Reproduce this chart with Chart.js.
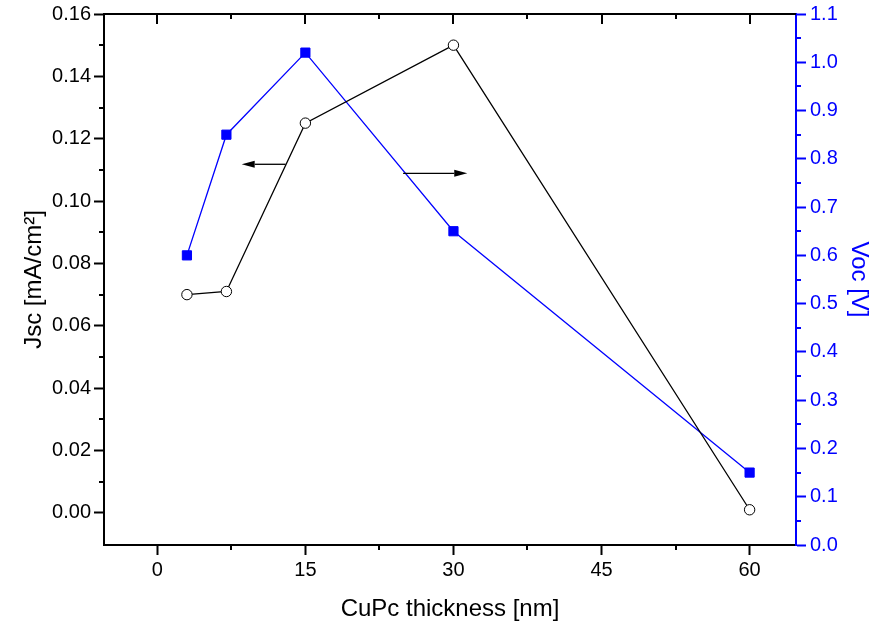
<!DOCTYPE html>
<html>
<head>
<meta charset="utf-8">
<script src="https://cdn.jsdelivr.net/npm/chart.js@4"></script>
<style>
  html, body { margin: 0; padding: 0; background: #fff; }
  #wrap { width: 878px; height: 625px; }
</style>
</head>
<body>
<div id="wrap"><canvas id="grafica" width="878" height="625"></canvas></div>
<script>
// CuPc layer thickness (nm)
const thickness = [3, 7, 15, 30, 60];
// short-circuit current density (mA/cm2)
const jsc = [0.070, 0.071, 0.125, 0.150, 0.001];
// open-circuit voltage (V)
const voc = [0.60, 0.85, 1.02, 0.65, 0.15];

// arrows telling which axis each curve belongs to: [x from, x to, y, axis]
const arrowFrom = [13.0, 24.9];
const arrowTo = [8.55, 31.4];
const arrowLevel = [0.1118, 0.770];
const arrowAxis = ['yJ', 'yV'];

const FONT = 'Liberation Sans, Arial, Helvetica, sans-serif';
const BLUE = '#0000ff';

// keep the plot frame fixed, whatever the tick labels would like to reserve
function fixedBox(size, horizontal) {
  return s => {
    if (horizontal) {
      s.height = size;
      s.paddingLeft = 0;
      s.paddingRight = 0;
    } else {
      s.width = size;
      s.paddingTop = 0;
      s.paddingBottom = 0;
    }
  };
}

// top frame line, minor ticks, top-axis ticks and the two arrows
const extrasPlugin = {
  id: 'extras',
  afterDraw(chart) {
    const ctx = chart.ctx;
    const area = chart.chartArea;
    const sx = chart.scales.x;
    const sJ = chart.scales.yJ;
    const sV = chart.scales.yV;

    ctx.save();
    ctx.lineWidth = 2;
    ctx.lineCap = 'butt';

    // top frame
    ctx.strokeStyle = '#000';
    ctx.beginPath();
    ctx.moveTo(area.left - 1, area.top);
    ctx.lineTo(area.right, area.top);
    ctx.stroke();

    function minors(scale) {
      const t = scale.ticks.map(k => k.value);
      const out = [];
      for (let i = 0; i < t.length - 1; i++) out.push((t[i] + t[i + 1]) / 2);
      return out;
    }

    // x: major + minor inward ticks on top, minor outward ticks at bottom
    ctx.beginPath();
    sx.ticks.forEach(k => {
      const px = Math.round(sx.getPixelForValue(k.value));
      ctx.moveTo(px, area.top);
      ctx.lineTo(px, area.top + 10);
    });
    minors(sx).forEach(v => {
      const px = Math.round(sx.getPixelForValue(v));
      ctx.moveTo(px, area.top);
      ctx.lineTo(px, area.top + 5);
      ctx.moveTo(px, area.bottom);
      ctx.lineTo(px, area.bottom + 5);
    });
    // left minor ticks
    minors(sJ).forEach(v => {
      const py = Math.round(sJ.getPixelForValue(v));
      ctx.moveTo(area.left, py);
      ctx.lineTo(area.left - 5, py);
    });
    ctx.stroke();

    // right minor ticks
    ctx.strokeStyle = BLUE;
    ctx.beginPath();
    minors(sV).forEach(v => {
      const py = Math.round(sV.getPixelForValue(v));
      ctx.moveTo(area.right, py);
      ctx.lineTo(area.right + 5, py);
    });
    ctx.stroke();

    // arrows
    ctx.strokeStyle = '#000';
    ctx.fillStyle = '#000';
    ctx.lineWidth = 1.3;
    for (let i = 0; i < arrowFrom.length; i++) {
      const ys = chart.scales[arrowAxis[i]];
      const x0 = sx.getPixelForValue(arrowFrom[i]);
      const x1 = sx.getPixelForValue(arrowTo[i]);
      const y = ys.getPixelForValue(arrowLevel[i]);
      const dir = x1 > x0 ? 1 : -1;
      const head = 13;
      ctx.beginPath();
      ctx.moveTo(x0, y);
      ctx.lineTo(x1 - dir * head, y);
      ctx.stroke();
      ctx.beginPath();
      ctx.moveTo(x1, y);
      ctx.lineTo(x1 - dir * head, y - 3.5);
      ctx.lineTo(x1 - dir * head, y + 3.5);
      ctx.closePath();
      ctx.fill();
    }
    ctx.restore();
  }
};

new Chart(document.getElementById('grafica'), {
  type: 'line',
  data: {
    datasets: [
      {
        label: 'Jsc',
        data: thickness.map((x, i) => ({ x: x, y: jsc[i] })),
        yAxisID: 'yJ',
        borderColor: '#000',
        borderWidth: 1.3,
        pointStyle: 'circle',
        pointRadius: 5.2,
        pointBorderWidth: 1,
        pointBorderColor: '#000',
        pointBackgroundColor: '#fff',
        tension: 0,
        order: 1
      },
      {
        label: 'Voc',
        data: thickness.map((x, i) => ({ x: x, y: voc[i] })),
        yAxisID: 'yV',
        borderColor: BLUE,
        borderWidth: 1.3,
        pointStyle: 'rect',
        pointRadius: 6.5,
        pointBorderWidth: 1,
        pointBorderColor: BLUE,
        pointBackgroundColor: BLUE,
        tension: 0,
        order: 2
      }
    ]
  },
  options: {
    responsive: false,
    animation: false,
    layout: { padding: { top: 14, left: 0, right: 0, bottom: 0 }, autoPadding: false },
    plugins: { legend: { display: false }, tooltip: { enabled: false } },
    scales: {
      x: {
        type: 'linear',
        position: 'bottom',
        min: -5.4,
        max: 64.7,
        afterFit: fixedBox(80, true),
        ticks: {
          stepSize: 15,
          includeBounds: false,
          padding: 3,
          color: '#000',
          font: { family: FONT, size: 20 },
          maxRotation: 0
        },
        grid: { display: true, drawOnChartArea: false, drawTicks: true, tickLength: 10, tickWidth: 2, tickColor: '#000' },
        border: { display: true, color: '#000', width: 2 },
        title: {
          display: true,
          text: 'CuPc thickness [nm]',
          color: '#000',
          font: { family: FONT, size: 24, lineHeight: 1.2 },
          padding: { top: 0, bottom: 1 }
        }
      },
      yJ: {
        type: 'linear',
        position: 'left',
        min: -0.0103,
        max: 0.16,
        afterFit: fixedBox(104, false),
        ticks: {
          stepSize: 0.02,
          includeBounds: false,
          padding: 3,
          color: '#000',
          font: { family: FONT, size: 20 },
          callback: v => v.toFixed(2)
        },
        grid: { display: true, drawOnChartArea: false, drawTicks: true, tickLength: 10, tickWidth: 2, tickColor: '#000' },
        border: { display: true, color: '#000', width: 2 },
        title: {
          display: true,
          text: 'Jsc [mA/cm²]',
          color: '#000',
          font: { family: FONT, size: 24, lineHeight: 1.2 },
          padding: { top: 20, bottom: 0 }
        }
      },
      yV: {
        type: 'linear',
        position: 'right',
        min: 0,
        max: 1.1,
        afterFit: fixedBox(82, false),
        ticks: {
          stepSize: 0.1,
          includeBounds: false,
          padding: 4,
          color: BLUE,
          font: { family: FONT, size: 20 },
          callback: v => v.toFixed(1)
        },
        grid: { display: true, drawOnChartArea: false, drawTicks: true, tickLength: 10, tickWidth: 2, tickColor: BLUE },
        border: { display: true, color: BLUE, width: 2 },
        title: {
          display: true,
          text: 'Voc [V]',
          color: BLUE,
          font: { family: FONT, size: 24, lineHeight: 1.2 },
          padding: { top: 5, bottom: 0 }
        }
      }
    }
  },
  plugins: [extrasPlugin]
});
</script>
</body>
</html>
